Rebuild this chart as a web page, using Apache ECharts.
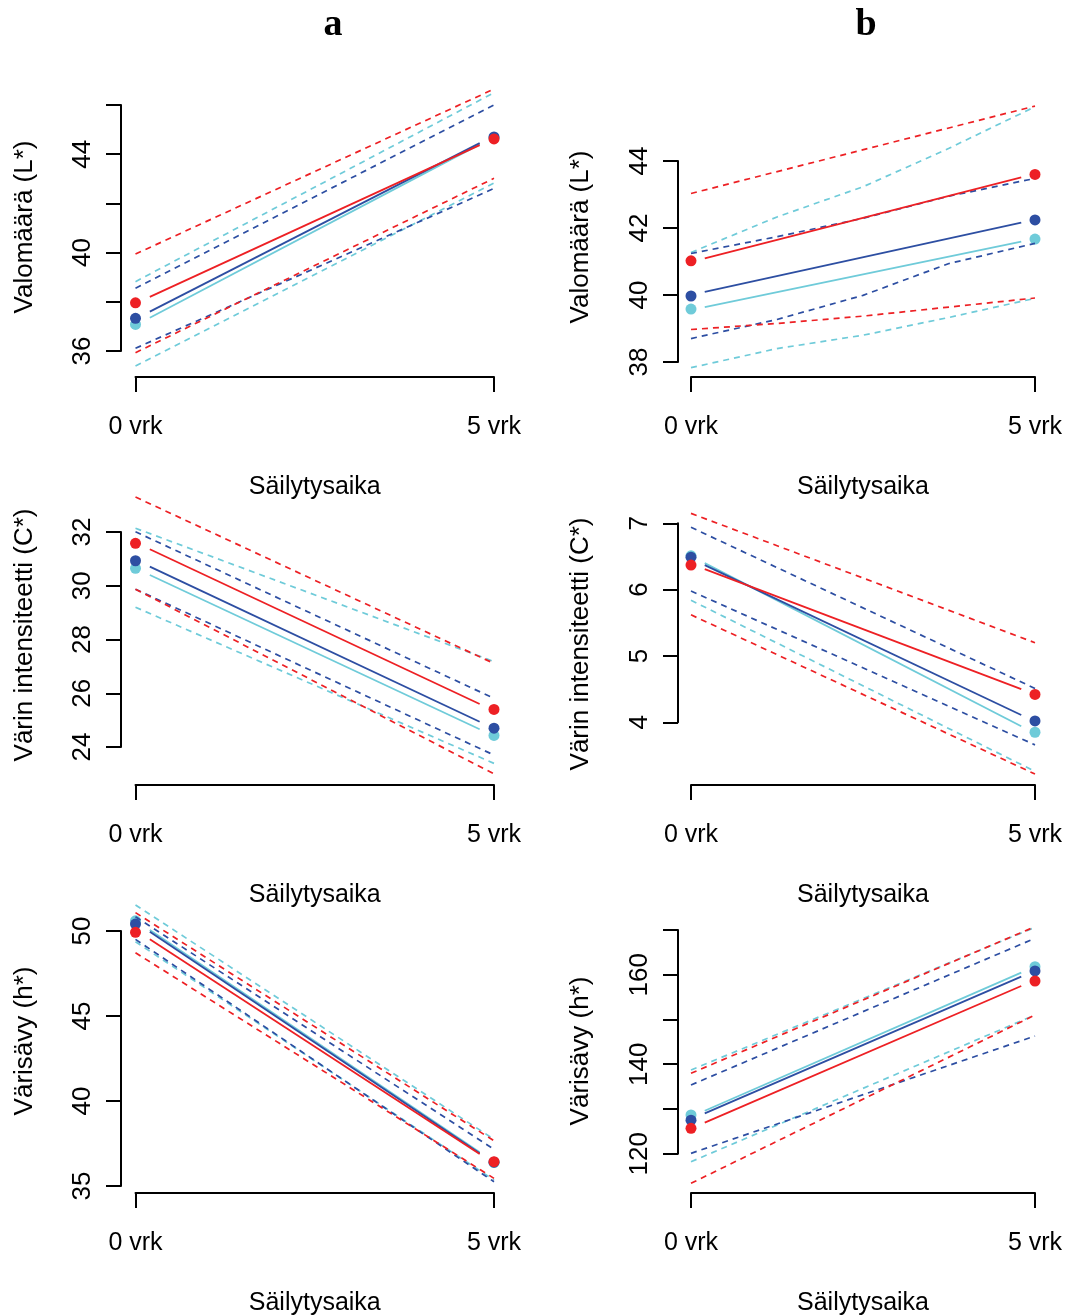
<!DOCTYPE html>
<html>
<head>
<meta charset="utf-8">
<script src="https://cdn.jsdelivr.net/npm/echarts@6/dist/echarts.min.js"></script>
<style>
  html, body { margin: 0; padding: 0; background: #fff; }
  #chart { width: 1070px; height: 1316px; }
</style>
</head>
<body>
<div id="chart"></div>
<script>
/* Värimittaukset 0 ja 5 vrk säilytyksen jälkeen, kaksi koesarjaa (a, b).
 * Jokaisessa paneelissa kolme ryhmää: [punainen, sininen, vaaleansininen]
 * Pts = mitatut keskiarvot (0 vrk, 5 vrk), Fit = sovitettu suora,
 * Hi / Lo = luottamusvälin ylä- ja alaraja (katkoviiva)
 */
var xTickLabels = ['0 vrk', '5 vrk'];
var xName = 'Säilytysaika';
var ptX = [0, 5];
var fitX = [0.2, 4.8];

// a: Valomäärä (L*)
var a1Pts = [[37.96, 44.62], [37.33, 44.70], [37.08, 44.66]];
var a1Fit = [[38.20, 44.37], [37.60, 44.45], [37.35, 44.40]];
var a1Hi  = [[39.94, 46.65], [38.55, 46.00], [38.82, 46.50]];
var a1Lo  = [[35.93, 43.02], [36.11, 42.61], [35.39, 42.83]];
var a1YRange = [36, 46], a1YStep = 2, a1YLabels = [36, 40, 44];

// b: Valomäärä (L*)
var b1Pts = [[41.02, 43.60], [39.97, 42.24], [39.58, 41.67]];
var b1Fit = [[41.09, 43.51], [40.09, 42.16], [39.64, 41.59]];
var b1Hi  = [[43.03, 45.64], [41.24, 41.74, 42.29, 42.95, 43.48], [41.27, 42.33, 43.23, 44.38, 45.62]];
var b1Lo  = [[38.97, 39.15, 39.37, 39.64, 39.91], [38.70, 39.27, 39.99, 40.94, 41.54], [37.83, 38.40, 38.80, 39.33, 39.90]];
var b1YRange = [38, 44], b1YStep = 2, b1YLabels = [38, 40, 42, 44];

// a: Värin intensiteetti (C*)
var a2Pts = [[31.58, 25.40], [30.93, 24.70], [30.65, 24.43]];
var a2Fit = [[31.36, 25.60], [30.71, 24.94], [30.40, 24.66]];
var a2Hi  = [[33.30, 27.11], [32.01, 25.81], [32.14, 27.18]];
var a2Lo  = [[29.87, 23.00], [29.87, 23.70], [29.20, 23.39]];
var a2YRange = [24, 32], a2YStep = 2, a2YLabels = [24, 26, 28, 30, 32];

// b: Värin intensiteetti (C*)
var b2Pts = [[6.37, 4.42], [6.49, 4.02], [6.51, 3.85]];
var b2Fit = [[6.31, 4.50], [6.37, 4.11], [6.40, 3.94]];
var b2Hi  = [[7.15, 5.20], [6.94, 4.51], null];
var b2Lo  = [[5.62, 3.22], [5.98, 3.66], [5.84, 3.26]];
var b2YRange = [4, 7], b2YStep = 1, b2YLabels = [4, 5, 6, 7];

// a: Värisävy (h*)
var a3Pts = [[49.92, 36.43], [50.41, 36.40], [50.60, 36.38]];
var a3Fit = [[49.51, 36.88], [49.96, 36.92], [50.06, 36.98]];
var a3Hi  = [[51.08, 37.66], [50.84, 37.16], [51.53, 37.75]];
var a3Lo  = [[48.72, 35.45], [49.51, 35.25], [49.37, 35.35]];
var a3YRange = [35, 50], a3YStep = 5, a3YLabels = [35, 40, 45, 50];

// b: Värisävy (h*)
var b3Pts = [[125.67, 158.60], [127.50, 160.84], [128.65, 161.80]];
var b3Fit = [[126.93, 157.48], [129.03, 159.57], [129.60, 160.46]];
var b3Hi  = [[137.97, 170.74], [135.36, 168.14], [138.70, 170.60]];
var b3Lo  = [[113.38, 151.00], [120.08, 146.30], [118.20, 151.00]];
var b3YRange = [120, 170], b3YStep = 10, b3YLabels = [120, 140, 160];

var groupColors = ['#ED2024', '#2D4EA2', '#6FCBD9']; // punainen, sininen, vaaleansininen
var FONT = "'Liberation Sans', Arial, sans-serif";

/* Paneelien sijoittelu (pikseleinä) */
var panels = [
  { pts: a1Pts, fit: a1Fit, hi: a1Hi, lo: a1Lo, yr: a1YRange, step: a1YStep, labels: a1YLabels,
    name: 'Valomäärä (L*)', x0: 135.5, x5: 494, axisX: 121, top: 105, bottom: 351, xAxisY: 377, nameX: 25, nameY: 227 },
  { pts: b1Pts, fit: b1Fit, hi: b1Hi, lo: b1Lo, yr: b1YRange, step: b1YStep, labels: b1YLabels,
    name: 'Valomäärä (L*)', x0: 691, x5: 1035, axisX: 678, top: 161, bottom: 362, xAxisY: 377, nameX: 581, nameY: 237 },
  { pts: a2Pts, fit: a2Fit, hi: a2Hi, lo: a2Lo, yr: a2YRange, step: a2YStep, labels: a2YLabels,
    name: 'Värin intensiteetti (C*)', x0: 135.5, x5: 494, axisX: 121, top: 532, bottom: 747, xAxisY: 785, nameX: 25, nameY: 635 },
  { pts: b2Pts, fit: b2Fit, hi: b2Hi, lo: b2Lo, yr: b2YRange, step: b2YStep, labels: b2YLabels,
    name: 'Värin intensiteetti (C*)', x0: 691, x5: 1035, axisX: 678, top: 523.3, bottom: 722.3, xAxisY: 785, nameX: 581, nameY: 644 },
  { pts: a3Pts, fit: a3Fit, hi: a3Hi, lo: a3Lo, yr: a3YRange, step: a3YStep, labels: a3YLabels,
    name: 'Värisävy (h*)', x0: 135.5, x5: 494, axisX: 121, top: 931, bottom: 1186, xAxisY: 1193, nameX: 25, nameY: 1041 },
  { pts: b3Pts, fit: b3Fit, hi: b3Hi, lo: b3Lo, yr: b3YRange, step: b3YStep, labels: b3YLabels,
    name: 'Värisävy (h*)', x0: 691, x5: 1035, axisX: 678, top: 930, bottom: 1153.7, xAxisY: 1193, nameX: 581, nameY: 1051 }
];

// luottamusvälin arvot tasavälein 0..5 vrk
function ciPairs(vals) {
  return vals.map(function (v, i) { return [5 * i / (vals.length - 1), v]; });
}
function pairs(xs, ys) {
  return ys.map(function (v, i) { return [xs[i], v]; });
}

var grids = [], xAxes = [], yAxes = [], series = [], graphics = [];

panels.forEach(function (p, gi) {
  grids.push({
    left: p.x0, top: p.top, width: p.x5 - p.x0, height: p.bottom - p.top,
    containLabel: false, outerBoundsMode: 'none'
  });
  xAxes.push({
    gridIndex: gi, type: 'value', min: 0, max: 5, interval: 5,
    offset: p.xAxisY - p.bottom,
    axisLine: { show: true, onZero: false, lineStyle: { color: '#000', width: 2 } },
    axisTick: { show: true, length: 15, lineStyle: { color: '#000', width: 2 } },
    axisLabel: {
      margin: 38, color: '#000', fontFamily: FONT, fontSize: 25,
      formatter: function (v) { return xTickLabels[ptX.indexOf(v)]; }
    },
    splitLine: { show: false },
    name: xName, nameLocation: 'middle', nameGap: 98,
    nameTextStyle: { color: '#000', fontFamily: FONT, fontSize: 25 }
  });
  yAxes.push({
    gridIndex: gi, type: 'value', min: p.yr[0], max: p.yr[1], interval: p.step,
    offset: p.x0 - p.axisX,
    axisLine: { show: true, onZero: false, lineStyle: { color: '#000', width: 2 } },
    axisTick: { show: true, length: 15, lineStyle: { color: '#000', width: 2 } },
    axisLabel: {
      rotate: 90, margin: 25, color: '#000', fontFamily: FONT, fontSize: 26,
      showMinLabel: true, showMaxLabel: true, hideOverlap: false,
      formatter: function (v) { return p.labels.indexOf(v) >= 0 ? String(v) : ''; }
    },
    splitLine: { show: false }
  });
  graphics.push({
    type: 'text', x: p.nameX, y: p.nameY, rotation: Math.PI / 2,
    style: { text: p.name, font: '26px ' + FONT, fill: '#000',
             textAlign: 'center', textVerticalAlign: 'middle' }
  });

  // piirretään vaaleansininen, sininen ja punainen päällimmäiseksi
  [2, 1, 0].forEach(function (k) {
    var col = groupColors[k];
    [p.hi[k], p.lo[k]].forEach(function (ci) {
      if (!ci) return;
      series.push({
        type: 'line', xAxisIndex: gi, yAxisIndex: gi, data: ciPairs(ci),
        showSymbol: false, clip: false, silent: true, animation: false,
        lineStyle: { color: col, width: 1.7, type: [6, 5] }
      });
    });
    series.push({
      type: 'line', xAxisIndex: gi, yAxisIndex: gi, data: pairs(fitX, p.fit[k]),
      showSymbol: false, clip: false, silent: true, animation: false,
      lineStyle: { color: col, width: 1.8 }
    });
    series.push({
      type: 'scatter', xAxisIndex: gi, yAxisIndex: gi, data: pairs(ptX, p.pts[k]),
      symbol: 'circle', symbolSize: 11, clip: false, animation: false,
      itemStyle: { color: col, opacity: 1 }
    });
  });
});

// paneelien otsikot
graphics.push({ type: 'text', x: 333, y: 25,
  style: { text: 'a', font: 'bold 38px "Liberation Serif", "Times New Roman", serif', fill: '#000',
           textAlign: 'center', textVerticalAlign: 'middle' } });
graphics.push({ type: 'text', x: 866, y: 25,
  style: { text: 'b', font: 'bold 38px "Liberation Serif", "Times New Roman", serif', fill: '#000',
           textAlign: 'center', textVerticalAlign: 'middle' } });

var chart = echarts.init(document.getElementById('chart'), null, { renderer: 'canvas' });
chart.setOption({
  backgroundColor: '#fff',
  animation: false,
  grid: grids,
  xAxis: xAxes,
  yAxis: yAxes,
  series: series,
  graphic: graphics
});
</script>
</body>
</html>
